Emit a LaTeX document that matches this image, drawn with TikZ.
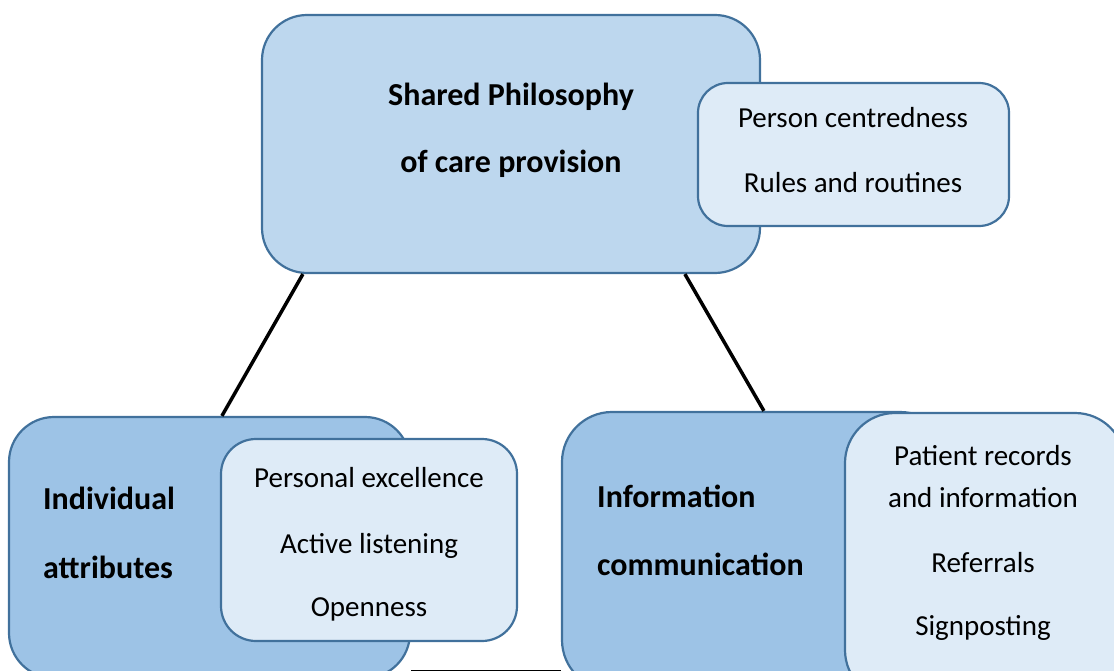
\documentclass[tikz,border=0pt]{standalone}
\usepackage{fontspec}
\setmainfont{Carlito}
\definecolor{edgeblue}{HTML}{41719C}
\definecolor{paleblue}{HTML}{BDD7EE}
\definecolor{midblue}{HTML}{9DC3E6}
\definecolor{lightblue}{HTML}{DEEBF7}
\begin{document}
\begin{tikzpicture}[x=1pt,y=-1pt,
  panel/.style={draw=edgeblue, line width=2.2pt, rectangle, inner sep=0pt},
  conn/.style={draw=black, line width=3.5pt},
  headtext/.style={inner sep=0pt, font=\fontsize{32}{38}\selectfont\bfseries},
  itemtext/.style={inner sep=0pt, font=\fontsize{29}{35}\selectfont}]
\useasboundingbox (0,0) rectangle (1114,671);
\clip (0,0) rectangle (1114,671);

% main panels
\node[panel, fill=paleblue, rounded corners=45pt, minimum width=498pt, minimum height=258pt] (top) at (511,144) {};
\node[panel, fill=midblue, rounded corners=45pt, minimum width=401pt, minimum height=261pt] (lb) at (209.5,547.5) {};
\node[panel, fill=midblue, rounded corners=50pt, minimum width=388pt, minimum height=278pt] (rb) at (756,551) {};

% connectors between panels
\draw[conn] ([xshift=42pt]top.south west) -- ([xshift=214pt]lb.north west);
\draw[conn] ([xshift=424pt]top.south west) -- ([xshift=203pt]rb.north west);
\draw[conn] ([yshift=7.5pt]lb.south east) -- ([yshift=19.5pt]rb.south west);

% detail panels
\node[panel, fill=lightblue, rounded corners=30pt, minimum width=311pt, minimum height=143pt] (tl) at (853.5,154.5) {};
\node[panel, fill=lightblue, rounded corners=35pt, minimum width=296pt, minimum height=202pt] (ll) at (369,540) {};
\node[panel, fill=lightblue, rounded corners=50pt, minimum width=280pt, minimum height=287pt] (rl) at (985,556.5) {};

% headings
\node[headtext, anchor=base] (h1) at (511,106) {Shared Philosophy};
\node[headtext, anchor=base] (h2) at (511,173) {of care provision};
\node[headtext, anchor=base west] (h3) at (43,509) {Individual};
\node[headtext, anchor=base west] (h4) at (43,578) {attributes};
\node[headtext, anchor=base west] (h5) at (597,507) {Information};
\node[headtext, anchor=base west] (h6) at (597,575) {communication};

% items
\node[itemtext, anchor=base] (i1) at (853,128) {Person centredness};
\node[itemtext, anchor=base] (i2) at (853,193) {Rules and routines};
\node[itemtext, anchor=base] (i3) at (369,487) {Personal excellence};
\node[itemtext, anchor=base] (i4) at (369,553) {Active listening};
\node[itemtext, anchor=base] (i5) at (369,616) {Openness};
\node[itemtext, anchor=base] (i6) at (983,465) {Patient records};
\node[itemtext, anchor=base] (i7) at (983,507) {and information};
\node[itemtext, anchor=base] (i8) at (983,572) {Referrals};
\node[itemtext, anchor=base] (i9) at (983,635) {Signposting};
\end{tikzpicture}
\end{document}
